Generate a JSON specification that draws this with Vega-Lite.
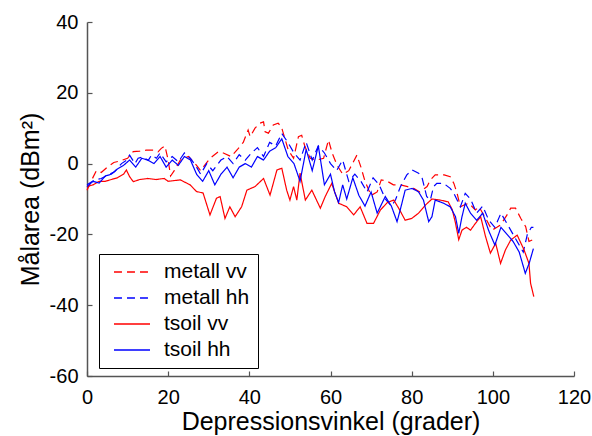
{
  "$schema": "https://vega.github.io/schema/vega-lite/v6.json",
  "width": 487,
  "height": 354,
  "autosize": "none",
  "padding": {"left": 87, "top": 22, "right": 18, "bottom": 60},
  "background": "white",
  "config": {
    "view": {"stroke": null},
    "font": "Liberation Sans",
    "axis": {
      "grid": false,
      "domainColor": "#555555",
      "domainWidth": 1.5,
      "tickColor": "#555555",
      "tickWidth": 1.2,
      "tickSize": -5,
      "labelFont": "Liberation Sans",
      "labelFontSize": 20,
      "labelColor": "black",
      "titleFont": "Liberation Sans",
      "titleFontSize": 25,
      "titleFontWeight": "normal",
      "titleColor": "black"
    }
  },
  "data": {
    "values": [
      {"s":"metall vv","x":0,"y":-7.5},{"s":"metall vv","x":1,"y":-5},{"s":"metall vv","x":2.3,"y":-2},{"s":"metall vv","x":3.5,"y":-2.5},{"s":"metall vv","x":5,"y":-1},{"s":"metall vv","x":6.6,"y":0.3},{"s":"metall vv","x":8,"y":0.7},{"s":"metall vv","x":10,"y":1.5},{"s":"metall vv","x":11.4,"y":3.4},{"s":"metall vv","x":13,"y":3.5},{"s":"metall vv","x":14.6,"y":3.8},{"s":"metall vv","x":16.3,"y":3.8},{"s":"metall vv","x":17.5,"y":3.3},{"s":"metall vv","x":18.3,"y":4.3},{"s":"metall vv","x":19.2,"y":5},{"s":"metall vv","x":20,"y":1},{"s":"metall vv","x":20.6,"y":-3.5},{"s":"metall vv","x":21.5,"y":-2},{"s":"metall vv","x":23,"y":1},{"s":"metall vv","x":25,"y":2},{"s":"metall vv","x":27,"y":-0.5},{"s":"metall vv","x":28,"y":-2},{"s":"metall vv","x":30.3,"y":1.5},{"s":"metall vv","x":32.3,"y":3.3},{"s":"metall vv","x":33.6,"y":3},{"s":"metall vv","x":35.5,"y":2},{"s":"metall vv","x":37.3,"y":4.3},{"s":"metall vv","x":38.5,"y":6},{"s":"metall vv","x":39.7,"y":9.5},{"s":"metall vv","x":40.2,"y":7.6},{"s":"metall vv","x":41.4,"y":10},{"s":"metall vv","x":42.6,"y":11.4},{"s":"metall vv","x":43.5,"y":11.8},{"s":"metall vv","x":43.9,"y":9},{"s":"metall vv","x":44.7,"y":8.6},{"s":"metall vv","x":45.9,"y":10.9},{"s":"metall vv","x":47.1,"y":11.4},{"s":"metall vv","x":47.9,"y":10.4},{"s":"metall vv","x":49.6,"y":3.8},{"s":"metall vv","x":50.9,"y":1.5},{"s":"metall vv","x":52.1,"y":7.6},{"s":"metall vv","x":52.9,"y":8},{"s":"metall vv","x":53.7,"y":4.8},{"s":"metall vv","x":55,"y":1.5},{"s":"metall vv","x":56.6,"y":1},{"s":"metall vv","x":58.3,"y":1.5},{"s":"metall vv","x":59.5,"y":6.7},{"s":"metall vv","x":60.4,"y":3},{"s":"metall vv","x":61.6,"y":-0.4},{"s":"metall vv","x":63,"y":-3},{"s":"metall vv","x":64.5,"y":-2},{"s":"metall vv","x":66.5,"y":2.4},{"s":"metall vv","x":67.5,"y":-1},{"s":"metall vv","x":68.5,"y":-5},{"s":"metall vv","x":70,"y":-9},{"s":"metall vv","x":71.5,"y":-8},{"s":"metall vv","x":72.5,"y":-4.6},{"s":"metall vv","x":74,"y":-5},{"s":"metall vv","x":75.5,"y":-6},{"s":"metall vv","x":77.2,"y":-6},{"s":"metall vv","x":79,"y":-6.5},{"s":"metall vv","x":80.5,"y":-7},{"s":"metall vv","x":82,"y":-8},{"s":"metall vv","x":83.8,"y":-6.5},{"s":"metall vv","x":84.6,"y":-4.6},{"s":"metall vv","x":85.8,"y":-3.2},{"s":"metall vv","x":88,"y":-3.2},{"s":"metall vv","x":89.5,"y":-3.7},{"s":"metall vv","x":90.4,"y":-5.6},{"s":"metall vv","x":91.2,"y":-8.4},{"s":"metall vv","x":92,"y":-12.2},{"s":"metall vv","x":92.9,"y":-11.7},{"s":"metall vv","x":94.1,"y":-11.2},{"s":"metall vv","x":95.7,"y":-13.1},{"s":"metall vv","x":96.6,"y":-12.2},{"s":"metall vv","x":98,"y":-15},{"s":"metall vv","x":99.8,"y":-18.8},{"s":"metall vv","x":101,"y":-18},{"s":"metall vv","x":101.9,"y":-17.3},{"s":"metall vv","x":103.5,"y":-14.5},{"s":"metall vv","x":104.4,"y":-12.6},{"s":"metall vv","x":105.6,"y":-12.6},{"s":"metall vv","x":106.9,"y":-15.5},{"s":"metall vv","x":108.1,"y":-17.8},{"s":"metall vv","x":108.9,"y":-22},{"s":"metall vv","x":109.7,"y":-21.6},

      {"s":"metall hh","x":0,"y":-6},{"s":"metall hh","x":1.9,"y":-4.6},{"s":"metall hh","x":3.5,"y":-4.2},{"s":"metall hh","x":5.2,"y":-3.2},{"s":"metall hh","x":6.8,"y":-2.3},{"s":"metall hh","x":8.5,"y":0},{"s":"metall hh","x":9.7,"y":0.9},{"s":"metall hh","x":10.5,"y":2.4},{"s":"metall hh","x":11.8,"y":0},{"s":"metall hh","x":12.6,"y":1.5},{"s":"metall hh","x":13.8,"y":1.9},{"s":"metall hh","x":15.1,"y":0.9},{"s":"metall hh","x":15.9,"y":2.4},{"s":"metall hh","x":17.1,"y":1.5},{"s":"metall hh","x":18,"y":3},{"s":"metall hh","x":19.5,"y":0.5},{"s":"metall hh","x":21,"y":2},{"s":"metall hh","x":22.5,"y":0.5},{"s":"metall hh","x":24,"y":3},{"s":"metall hh","x":25.5,"y":1.5},{"s":"metall hh","x":27,"y":-1},{"s":"metall hh","x":28,"y":-3},{"s":"metall hh","x":29.5,"y":0},{"s":"metall hh","x":31,"y":-2},{"s":"metall hh","x":33,"y":1},{"s":"metall hh","x":34.5,"y":2},{"s":"metall hh","x":36,"y":0},{"s":"metall hh","x":37.5,"y":2.5},{"s":"metall hh","x":39,"y":1},{"s":"metall hh","x":40.5,"y":3},{"s":"metall hh","x":42,"y":4.5},{"s":"metall hh","x":43.5,"y":2},{"s":"metall hh","x":45,"y":6},{"s":"metall hh","x":46.5,"y":5},{"s":"metall hh","x":48,"y":8.5},{"s":"metall hh","x":49.5,"y":6},{"s":"metall hh","x":51,"y":3},{"s":"metall hh","x":52.5,"y":1},{"s":"metall hh","x":54,"y":6},{"s":"metall hh","x":55.5,"y":1},{"s":"metall hh","x":57,"y":5},{"s":"metall hh","x":58.5,"y":3},{"s":"metall hh","x":60,"y":0},{"s":"metall hh","x":61.5,"y":-2},{"s":"metall hh","x":63,"y":1},{"s":"metall hh","x":64.5,"y":-5},{"s":"metall hh","x":66,"y":-3},{"s":"metall hh","x":67.5,"y":-5},{"s":"metall hh","x":69,"y":-8},{"s":"metall hh","x":70.5,"y":-4},{"s":"metall hh","x":72,"y":-6},{"s":"metall hh","x":73.5,"y":-10},{"s":"metall hh","x":75,"y":-12},{"s":"metall hh","x":76,"y":-10.3},{"s":"metall hh","x":77.2,"y":-6.6},{"s":"metall hh","x":78.8,"y":-3.2},{"s":"metall hh","x":80.1,"y":-1.8},{"s":"metall hh","x":81.7,"y":-2.7},{"s":"metall hh","x":82.5,"y":-3.7},{"s":"metall hh","x":83.7,"y":-9.3},{"s":"metall hh","x":84.6,"y":-10.3},{"s":"metall hh","x":85.4,"y":-6.5},{"s":"metall hh","x":86.2,"y":-5.6},{"s":"metall hh","x":87.9,"y":-5.6},{"s":"metall hh","x":89.5,"y":-7},{"s":"metall hh","x":90.4,"y":-8.4},{"s":"metall hh","x":91.2,"y":-10.3},{"s":"metall hh","x":92,"y":-12.2},{"s":"metall hh","x":93.2,"y":-8.4},{"s":"metall hh","x":94.5,"y":-10},{"s":"metall hh","x":96,"y":-14},{"s":"metall hh","x":97.5,"y":-12},{"s":"metall hh","x":99,"y":-16},{"s":"metall hh","x":100.5,"y":-18},{"s":"metall hh","x":102,"y":-14},{"s":"metall hh","x":103.5,"y":-17},{"s":"metall hh","x":105,"y":-20},{"s":"metall hh","x":106.5,"y":-23},{"s":"metall hh","x":107.5,"y":-25},{"s":"metall hh","x":108.5,"y":-20},{"s":"metall hh","x":109.5,"y":-18},{"s":"metall hh","x":110,"y":-18},

      {"s":"tsoil vv","x":0,"y":-6.5},{"s":"tsoil vv","x":1.5,"y":-6},{"s":"tsoil vv","x":3,"y":-5},{"s":"tsoil vv","x":4.5,"y":-5},{"s":"tsoil vv","x":6,"y":-4.5},{"s":"tsoil vv","x":7.5,"y":-4},{"s":"tsoil vv","x":9,"y":-3},{"s":"tsoil vv","x":9.7,"y":-1.8},{"s":"tsoil vv","x":10.5,"y":-3.7},{"s":"tsoil vv","x":11.4,"y":-5.1},{"s":"tsoil vv","x":13,"y":-4.5},{"s":"tsoil vv","x":15,"y":-4.2},{"s":"tsoil vv","x":17,"y":-4.5},{"s":"tsoil vv","x":19,"y":-4.2},{"s":"tsoil vv","x":20,"y":-5},{"s":"tsoil vv","x":23,"y":-4.6},{"s":"tsoil vv","x":25.4,"y":-6},{"s":"tsoil vv","x":27,"y":-7.9},{"s":"tsoil vv","x":28.6,"y":-8.3},{"s":"tsoil vv","x":30.3,"y":-14.5},{"s":"tsoil vv","x":31.9,"y":-9.8},{"s":"tsoil vv","x":32.8,"y":-9.3},{"s":"tsoil vv","x":34,"y":-15.5},{"s":"tsoil vv","x":35.2,"y":-12.2},{"s":"tsoil vv","x":36.5,"y":-15},{"s":"tsoil vv","x":38.1,"y":-12.2},{"s":"tsoil vv","x":39.4,"y":-7.5},{"s":"tsoil vv","x":41.4,"y":-6.5},{"s":"tsoil vv","x":43.5,"y":-4.2},{"s":"tsoil vv","x":45.1,"y":-8.9},{"s":"tsoil vv","x":46.8,"y":-1.8},{"s":"tsoil vv","x":48,"y":-1.3},{"s":"tsoil vv","x":49.2,"y":-7.5},{"s":"tsoil vv","x":50,"y":-10.3},{"s":"tsoil vv","x":50.9,"y":-6.5},{"s":"tsoil vv","x":51.7,"y":-10.3},{"s":"tsoil vv","x":52.5,"y":-2.7},{"s":"tsoil vv","x":53.8,"y":-10.3},{"s":"tsoil vv","x":55.4,"y":-7.5},{"s":"tsoil vv","x":57.5,"y":-12.6},{"s":"tsoil vv","x":58.7,"y":-9.3},{"s":"tsoil vv","x":60.3,"y":-5.6},{"s":"tsoil vv","x":62,"y":-11.2},{"s":"tsoil vv","x":64,"y":-12.2},{"s":"tsoil vv","x":65.7,"y":-14.5},{"s":"tsoil vv","x":67.3,"y":-12.2},{"s":"tsoil vv","x":69,"y":-16.9},{"s":"tsoil vv","x":70.6,"y":-16.9},{"s":"tsoil vv","x":72.3,"y":-13.1},{"s":"tsoil vv","x":74,"y":-11},{"s":"tsoil vv","x":75.6,"y":-10.3},{"s":"tsoil vv","x":77,"y":-13},{"s":"tsoil vv","x":78.4,"y":-16},{"s":"tsoil vv","x":80,"y":-15.5},{"s":"tsoil vv","x":81.7,"y":-14},{"s":"tsoil vv","x":83.4,"y":-11.7},{"s":"tsoil vv","x":85,"y":-10},{"s":"tsoil vv","x":87,"y":-10.3},{"s":"tsoil vv","x":89,"y":-10.8},{"s":"tsoil vv","x":90,"y":-13},{"s":"tsoil vv","x":90.8,"y":-16.8},{"s":"tsoil vv","x":91.6,"y":-21.5},{"s":"tsoil vv","x":92.4,"y":-18.8},{"s":"tsoil vv","x":93.5,"y":-18},{"s":"tsoil vv","x":94.5,"y":-18.8},{"s":"tsoil vv","x":95.7,"y":-16.9},{"s":"tsoil vv","x":97,"y":-15},{"s":"tsoil vv","x":98.2,"y":-20.6},{"s":"tsoil vv","x":99.4,"y":-25.3},{"s":"tsoil vv","x":100.7,"y":-22.5},{"s":"tsoil vv","x":101.9,"y":-28.2},{"s":"tsoil vv","x":103.1,"y":-24.4},{"s":"tsoil vv","x":104.4,"y":-21.6},{"s":"tsoil vv","x":106,"y":-20.2},{"s":"tsoil vv","x":107.7,"y":-24.4},{"s":"tsoil vv","x":108.9,"y":-28.2},{"s":"tsoil vv","x":109.3,"y":-33.8},{"s":"tsoil vv","x":110.1,"y":-37.6},

      {"s":"tsoil hh","x":0,"y":-6.5},{"s":"tsoil hh","x":1.5,"y":-5},{"s":"tsoil hh","x":3,"y":-5.5},{"s":"tsoil hh","x":4.5,"y":-3.5},{"s":"tsoil hh","x":6,"y":-3},{"s":"tsoil hh","x":7.5,"y":-1.5},{"s":"tsoil hh","x":9,"y":-0.5},{"s":"tsoil hh","x":10.5,"y":1},{"s":"tsoil hh","x":12,"y":-1},{"s":"tsoil hh","x":13.5,"y":1.5},{"s":"tsoil hh","x":15,"y":1},{"s":"tsoil hh","x":16.5,"y":0},{"s":"tsoil hh","x":18,"y":2},{"s":"tsoil hh","x":19.5,"y":-1},{"s":"tsoil hh","x":21,"y":1},{"s":"tsoil hh","x":22.5,"y":-0.5},{"s":"tsoil hh","x":24,"y":2},{"s":"tsoil hh","x":25.5,"y":1},{"s":"tsoil hh","x":27,"y":-3},{"s":"tsoil hh","x":28.5,"y":-5},{"s":"tsoil hh","x":30,"y":-2},{"s":"tsoil hh","x":31.5,"y":-6},{"s":"tsoil hh","x":33,"y":-3},{"s":"tsoil hh","x":34.5,"y":-1},{"s":"tsoil hh","x":36,"y":-4},{"s":"tsoil hh","x":37.5,"y":-1},{"s":"tsoil hh","x":39,"y":0},{"s":"tsoil hh","x":40.5,"y":-1},{"s":"tsoil hh","x":42,"y":2},{"s":"tsoil hh","x":43.5,"y":1},{"s":"tsoil hh","x":45,"y":3.5},{"s":"tsoil hh","x":46.5,"y":4.5},{"s":"tsoil hh","x":48,"y":7},{"s":"tsoil hh","x":49.5,"y":2},{"s":"tsoil hh","x":51,"y":0},{"s":"tsoil hh","x":52.5,"y":-5},{"s":"tsoil hh","x":54,"y":4},{"s":"tsoil hh","x":55.5,"y":-2},{"s":"tsoil hh","x":57,"y":5},{"s":"tsoil hh","x":58.5,"y":-6},{"s":"tsoil hh","x":60,"y":-3},{"s":"tsoil hh","x":61,"y":-8},{"s":"tsoil hh","x":62,"y":-11},{"s":"tsoil hh","x":63,"y":-6},{"s":"tsoil hh","x":64,"y":-10},{"s":"tsoil hh","x":65.5,"y":-4},{"s":"tsoil hh","x":67,"y":-9},{"s":"tsoil hh","x":68.5,"y":-12},{"s":"tsoil hh","x":70,"y":-8},{"s":"tsoil hh","x":71.5,"y":-14},{"s":"tsoil hh","x":73.5,"y":-9.3},{"s":"tsoil hh","x":75,"y":-12},{"s":"tsoil hh","x":76.4,"y":-16.4},{"s":"tsoil hh","x":77.2,"y":-13},{"s":"tsoil hh","x":78.4,"y":-7.5},{"s":"tsoil hh","x":80.1,"y":-7},{"s":"tsoil hh","x":81.7,"y":-8},{"s":"tsoil hh","x":82.9,"y":-10.3},{"s":"tsoil hh","x":84.2,"y":-16.4},{"s":"tsoil hh","x":85,"y":-15},{"s":"tsoil hh","x":85.8,"y":-10.3},{"s":"tsoil hh","x":87.9,"y":-11.2},{"s":"tsoil hh","x":89.5,"y":-12.2},{"s":"tsoil hh","x":90.8,"y":-15},{"s":"tsoil hh","x":91.6,"y":-19.7},{"s":"tsoil hh","x":92.4,"y":-15},{"s":"tsoil hh","x":93.2,"y":-11.2},{"s":"tsoil hh","x":94.5,"y":-14},{"s":"tsoil hh","x":96,"y":-16},{"s":"tsoil hh","x":97.5,"y":-14},{"s":"tsoil hh","x":99,"y":-19},{"s":"tsoil hh","x":100.5,"y":-23},{"s":"tsoil hh","x":102,"y":-18},{"s":"tsoil hh","x":103.5,"y":-20},{"s":"tsoil hh","x":105,"y":-22},{"s":"tsoil hh","x":106.5,"y":-25},{"s":"tsoil hh","x":108,"y":-31},{"s":"tsoil hh","x":109,"y":-28},{"s":"tsoil hh","x":110,"y":-24}
    ]
  },
  "mark": {"type": "line", "strokeWidth": 1.2, "interpolate": "linear"},
  "encoding": {
    "x": {
      "field": "x", "type": "quantitative",
      "scale": {"domain": [0, 120], "nice": false, "zero": false},
      "axis": {"values": [0, 20, 40, 60, 80, 100, 120], "title": "Depressionsvinkel (grader)", "labelPadding": 16, "titlePadding": 2, "labelFlush": false}
    },
    "y": {
      "field": "y", "type": "quantitative",
      "scale": {"domain": [-60, 40], "nice": false, "zero": false},
      "axis": {"values": [-60, -40, -20, 0, 20, 40], "title": "Målarea (dBm²)", "labelExpr": "'' + datum.value", "labelPadding": 14, "titlePadding": 6, "labelFlush": false}
    },
    "color": {
      "field": "s", "type": "nominal",
      "scale": {"domain": ["metall vv", "metall hh", "tsoil vv", "tsoil hh"], "range": ["#ff0000", "#0000ff", "#ff0000", "#0000ff"]},
      "legend": {
        "orient": "none", "legendX": 12, "legendY": 232, "title": null,
        "symbolType": "stroke", "symbolSize": 1300, "symbolStrokeWidth": 1.3,
        "clipHeight": 20,
        "labelFont": "Liberation Sans", "labelFontSize": 21, "labelColor": "black",
        "labelExpr": "datum.label + '\u00a0'",
        "strokeColor": "black", "fillColor": "white", "padding": 8,
        "rowPadding": 5, "symbolOffset": 6, "labelOffset": 13
      }
    },
    "strokeDash": {
      "field": "s", "type": "nominal",
      "scale": {"domain": ["metall vv", "metall hh", "tsoil vv", "tsoil hh"], "range": [[8, 5], [8, 5], [1, 0], [1, 0]]},
      "legend": null
    },
    "order": {"field": "x", "type": "quantitative"}
  }
}
